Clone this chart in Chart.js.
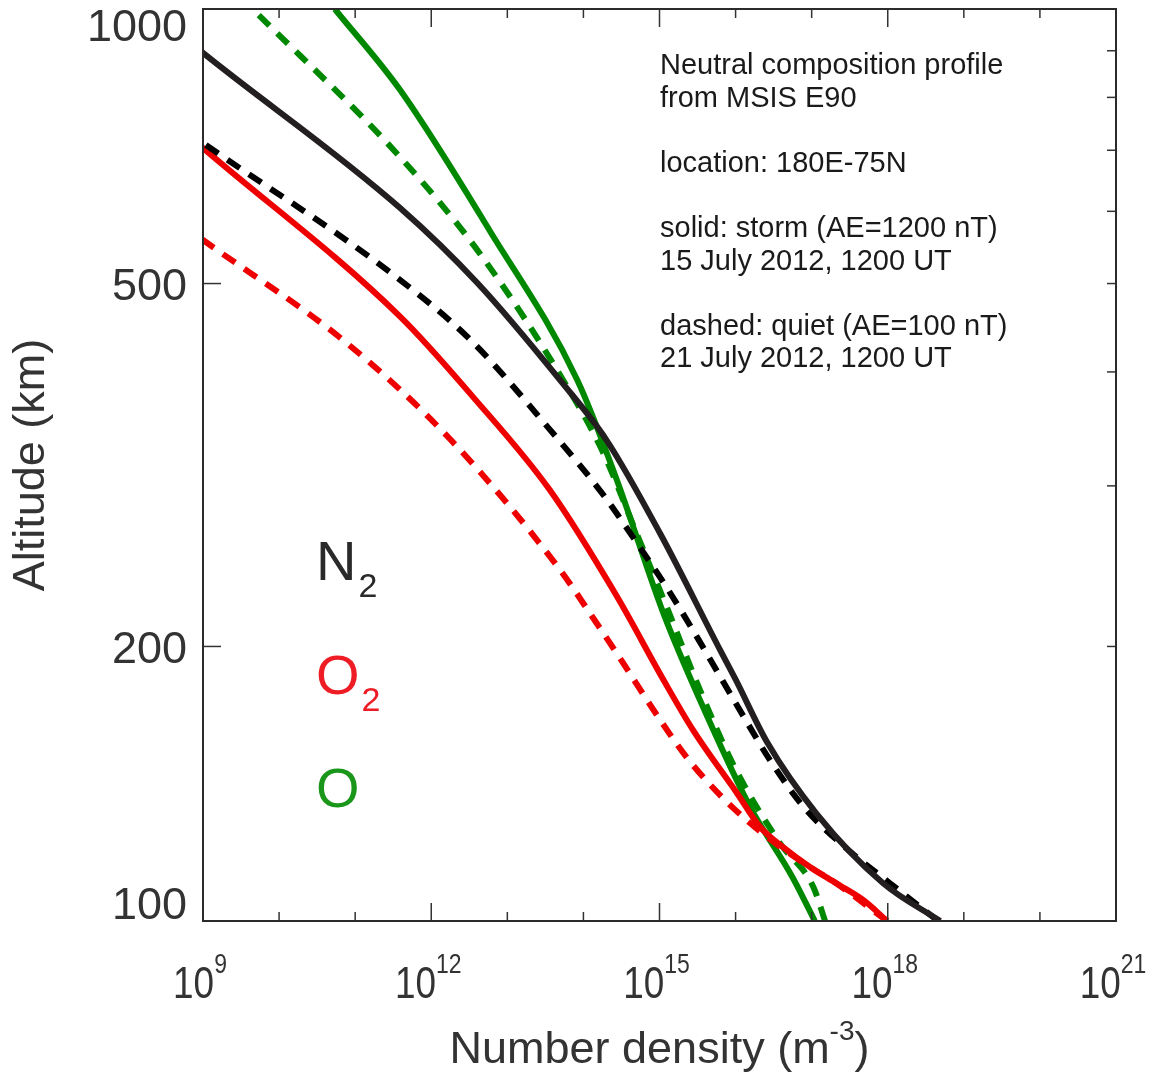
<!doctype html>
<html lang="en">
<head>
<meta charset="utf-8">
<title>Neutral composition profile</title>
<script src="https://cdn.jsdelivr.net/npm/chart.js@4.4.1/dist/chart.umd.min.js"></script>
<style>
  body { margin: 0; background: #fff; }
  #wrap { width: 1162px; height: 1075px; }
</style>
</head>
<body>
<div id="wrap"><canvas id="profileChart" width="1162" height="1075"></canvas></div>
<script>
// altitude (km) and number density (m^-3)
const altN2Storm = [100, 110, 131, 157, 184, 198, 266, 337, 392, 500, 605, 895, 1000];
const denN2Storm = [4.9e18, 8.7e17, 1.17e17, 2.6e16, 1.0e16, 6.3e15, 1.02e15, 2.0e14, 4.9e13, 4.1e12, 3.9e11, 1.0e9, 2.0e8];

const altN2Quiet = [100, 110, 120, 133, 149, 170, 204, 231, 260, 292, 346, 434.5, 513, 713, 800];
const denN2Quiet = [4.6e18, 1.07e18, 2.9e17, 8.1e16, 3.0e16, 1.15e16, 3.2e15, 1.29e15, 5.0e14, 1.9e14, 3.6e13, 3.2e12, 3.0e11, 1.0e9, 1.4e8];

const altO2Storm = [100, 105.4, 110, 114.6, 120.5, 126.8, 138, 162, 184, 227, 297, 373, 460, 704, 800];
const denO2Storm = [9.8e17, 4.8e17, 2.1e17, 9.5e16, 4.2e16, 2.1e16, 1.05e16, 2.75e15, 1.12e15, 2.75e14, 3.6e13, 3.8e12, 3.9e11, 1.0e9, 1.7e8];

const altO2Quiet = [100, 110, 114.6, 123.6, 135.8, 151, 171, 192, 216, 244, 337, 430, 558, 700];
const denO2Quiet = [9.8e17, 2.1e17, 9.5e16, 2.6e16, 7.2e15, 2.3e15, 8.1e14, 3.3e14, 1.29e14, 4.7e13, 1.8e12, 7.8e10, 1.0e9, 2.3e7];

const altOStorm = [100, 111.7, 133.4, 174.7, 217.7, 304.5, 392, 571, 815, 1000];
const denOStorm = [1.1e17, 5.6e16, 1.55e16, 3.4e15, 1.12e15, 2.75e14, 8.3e13, 5.9e12, 3.9e11, 5.4e10];

const altOQuiet = [100, 109, 121.8, 147.2, 179.2, 219.3, 266, 326.8, 392, 538.7, 688, 1000];
const denOQuiet = [1.5e17, 1.05e17, 3.8e16, 9.8e15, 3.4e15, 1.29e15, 5.0e14, 1.8e14, 5.4e13, 4.4e12, 3.9e11, 4.5e9];

const xDecades = [9, 10, 11, 12, 13, 14, 15, 16, 17, 18, 19, 20, 21];
const xLabelExps = ['9', '12', '15', '18', '21'];
const yLabels = [100, 200, 500, 1000];
const yLeftTicks = [200, 500];
const yRightTicks = [200, 300, 400, 500, 600, 700, 800, 900];

const noteLines = [
  'Neutral composition profile',
  'from MSIS E90',
  '',
  'location: 180E-75N',
  '',
  'solid: storm (AE=1200 nT)',
  '15 July 2012, 1200 UT',
  '',
  'dashed: quiet (AE=100 nT)',
  '21 July 2012, 1200 UT'
];

const BLACK = '#231f20';
const RED = '#ee0000';
const GREEN = '#008800';
const FONT = '"Liberation Sans", Arial, sans-serif';

function profile(label, alts, dens, color, dashed) {
  return {
    label: label,
    data: alts.map((a, i) => ({ x: dens[i], y: a })),
    borderColor: color,
    borderWidth: 6,
    borderDash: dashed ? [15, 11] : [],
    pointRadius: 0,
    showLine: true,
    cubicInterpolationMode: 'monotone',
    fill: false,
    clip: 0
  };
}

function line(ctx, x1, y1, x2, y2) {
  ctx.beginPath();
  ctx.moveTo(x1, y1);
  ctx.lineTo(x2, y2);
  ctx.stroke();
}

const axesPlugin = {
  id: 'axesPlugin',
  afterDatasetsDraw(chart) {
    const ctx = chart.ctx;
    const { left, right, top, bottom } = chart.chartArea;
    const xs = chart.scales.x;
    const ys = chart.scales.y;
    ctx.save();

    // ticks, pointing inward
    ctx.strokeStyle = '#333';
    ctx.lineWidth = 1.5;
    xDecades.forEach(e => {
      const px = xs.getPixelForValue(Math.pow(10, e));
      const len = e % 3 === 0 ? 18 : 9;
      line(ctx, px, bottom, px, bottom - len);
      line(ctx, px, top, px, top + len);
    });
    yLeftTicks.forEach(v => {
      const py = ys.getPixelForValue(v);
      line(ctx, left, py, left + 18, py);
    });
    yRightTicks.forEach(v => {
      const py = ys.getPixelForValue(v);
      line(ctx, right, py, right - 9, py);
    });

    // frame
    ctx.lineWidth = 2;
    ctx.strokeStyle = '#2b2b2b';
    ctx.strokeRect(left, top, right - left, bottom - top);

    // y tick labels
    ctx.fillStyle = '#333';
    ctx.font = '45px ' + FONT;
    ctx.textAlign = 'right';
    ctx.textBaseline = 'middle';
    yLabels.forEach(v => {
      let py = ys.getPixelForValue(v) + 4;
      py = Math.min(Math.max(py, top + 20), bottom - 14);
      ctx.fillText(String(v), 187, py);
    });

    // x tick labels: 10 with superscript exponent, narrow
    xLabelExps.forEach(e => {
      const px = xs.getPixelForValue(Math.pow(10, Number(e)));
      ctx.save();
      ctx.translate(px - 3, 998);
      ctx.scale(0.82, 1);
      ctx.font = '45px ' + FONT;
      const wBase = ctx.measureText('10').width;
      ctx.font = '28px ' + FONT;
      const wExp = ctx.measureText(e).width;
      const x0 = -(wBase + wExp) / 2;
      ctx.textAlign = 'left';
      ctx.textBaseline = 'alphabetic';
      ctx.font = '45px ' + FONT;
      ctx.fillText('10', x0, 0);
      ctx.font = '28px ' + FONT;
      ctx.fillText(e, x0 + wBase, -25);
      ctx.restore();
    });

    // x title
    ctx.save();
    ctx.textAlign = 'left';
    ctx.textBaseline = 'alphabetic';
    ctx.font = '45px ' + FONT;
    const t1 = 'Number density (m';
    const w1 = ctx.measureText(t1).width;
    const w3 = ctx.measureText(')').width;
    ctx.font = '28px ' + FONT;
    const w2 = ctx.measureText('-3').width;
    const tx = (left + right) / 2 - (w1 + w2 + w3) / 2;
    ctx.font = '45px ' + FONT;
    ctx.fillText(t1, tx, 1063);
    ctx.font = '28px ' + FONT;
    ctx.fillText('-3', tx + w1, 1040);
    ctx.font = '45px ' + FONT;
    ctx.fillText(')', tx + w1 + w2, 1063);
    ctx.restore();

    // y title
    ctx.save();
    ctx.translate(44, (top + bottom) / 2);
    ctx.rotate(-Math.PI / 2);
    ctx.textAlign = 'center';
    ctx.textBaseline = 'alphabetic';
    ctx.font = '45px ' + FONT;
    ctx.fillText('Altitude (km)', 0, 0);
    ctx.restore();

    // annotation block
    ctx.fillStyle = '#1a1a1a';
    ctx.font = '29px ' + FONT;
    ctx.textAlign = 'left';
    ctx.textBaseline = 'alphabetic';
    noteLines.forEach((s, i) => {
      if (s) ctx.fillText(s, 660, 74 + i * 32.6);
    });

    // species labels
    const species = [
      { main: 'N', sub: '2', color: '#2a2a2a', y: 580 },
      { main: 'O', sub: '2', color: '#ee1c24', y: 694 },
      { main: 'O', sub: '', color: '#1a961a', y: 807 }
    ];
    species.forEach(s => {
      ctx.fillStyle = s.color;
      ctx.font = '56px ' + FONT;
      ctx.fillText(s.main, 316, s.y);
      const w = ctx.measureText(s.main).width;
      if (s.sub) {
        ctx.font = '34px ' + FONT;
        ctx.fillText(s.sub, 316 + w + 2, s.y + 17);
      }
    });

    ctx.restore();
  }
};

new Chart(document.getElementById('profileChart'), {
  type: 'scatter',
  data: {
    datasets: [
      profile('N2 storm', altN2Storm, denN2Storm, BLACK, false),
      profile('N2 quiet', altN2Quiet, denN2Quiet, '#000000', true),
      profile('O2 storm', altO2Storm, denO2Storm, RED, false),
      profile('O2 quiet', altO2Quiet, denO2Quiet, RED, true),
      profile('O storm', altOStorm, denOStorm, GREEN, false),
      profile('O quiet', altOQuiet, denOQuiet, GREEN, true)
    ]
  },
  options: {
    responsive: false,
    animation: false,
    devicePixelRatio: 1,
    layout: { padding: { left: 203, right: 46, top: 9, bottom: 154 } },
    plugins: { legend: { display: false }, tooltip: { enabled: false } },
    scales: {
      x: { type: 'logarithmic', min: 1e9, max: 1e21, display: false },
      y: { type: 'logarithmic', min: 100, max: 1000, display: false }
    }
  },
  plugins: [axesPlugin]
});
</script>
</body>
</html>
